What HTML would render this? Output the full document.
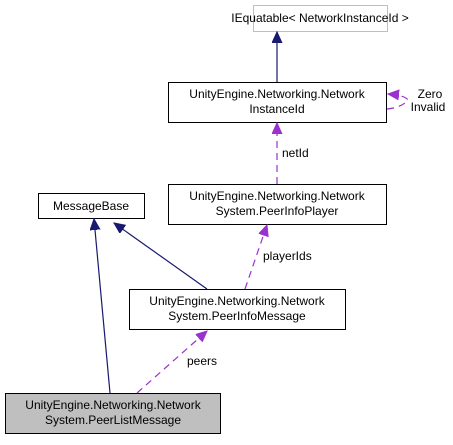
<!DOCTYPE html>
<html><head><style>
body{margin:0;background:#fff;width:453px;height:440px;overflow:hidden}
svg text{font-family:"Liberation Sans",sans-serif;font-size:12px;fill:#000}
</style></head><body>
<svg width="453" height="440" viewBox="0 0 453 440">
<defs>
<marker id="nb" markerWidth="12" markerHeight="12" refX="11" refY="5" orient="auto" markerUnits="userSpaceOnUse"><path d="M0,0 L11,5 L0,10 z" fill="#191970" stroke="#191970"/></marker>
<marker id="pa" markerWidth="12" markerHeight="12" refX="11" refY="5" orient="auto" markerUnits="userSpaceOnUse"><path d="M0,0 L11,5 L0,10 z" fill="#9a32cd" stroke="#9a32cd"/></marker>
</defs>
<rect x="253.5" y="5.5" width="134" height="26" fill="#fff" stroke="#bfbfbf"/>
<text x="320" y="22" text-anchor="middle">IEquatable&lt; NetworkInstanceId &gt;</text>
<rect x="168.5" y="82.5" width="218" height="40" fill="#fff" stroke="#000"/>
<text x="277" y="98" text-anchor="middle">UnityEngine.Networking.Network</text>
<text x="277" y="113" text-anchor="middle">InstanceId</text>
<rect x="168.5" y="184.5" width="218" height="40" fill="#fff" stroke="#000"/>
<text x="277" y="200" text-anchor="middle">UnityEngine.Networking.Network</text>
<text x="277" y="215" text-anchor="middle">System.PeerInfoPlayer</text>
<rect x="38.5" y="193.5" width="106" height="25" fill="#fff" stroke="#000"/>
<text x="91" y="210" text-anchor="middle">MessageBase</text>
<rect x="129.5" y="289.5" width="216" height="40" fill="#fff" stroke="#000"/>
<text x="237" y="305" text-anchor="middle">UnityEngine.Networking.Network</text>
<text x="237" y="320" text-anchor="middle">System.PeerInfoMessage</text>
<rect x="5.5" y="393.5" width="215" height="40" fill="#bfbfbf" stroke="#000"/>
<text x="113" y="409" text-anchor="middle">UnityEngine.Networking.Network</text>
<text x="113" y="424" text-anchor="middle">System.PeerListMessage</text>
<line x1="277" y1="82" x2="277" y2="32" stroke="#191970" stroke-width="1.2" marker-end="url(#nb)"/>
<line x1="110" y1="393" x2="94" y2="219" stroke="#191970" stroke-width="1.2" marker-end="url(#nb)"/>
<line x1="207" y1="289" x2="114" y2="223" stroke="#191970" stroke-width="1.2" marker-end="url(#nb)"/>
<line x1="277" y1="184" x2="277" y2="123" stroke="#9a32cd" stroke-dasharray="7,5" stroke-width="1.2" marker-end="url(#pa)"/>
<text x="282" y="157">netId</text>
<line x1="245" y1="289" x2="267" y2="225" stroke="#9a32cd" stroke-dasharray="7,5" stroke-width="1.2" marker-end="url(#pa)"/>
<text x="263" y="260">playerIds</text>
<line x1="137" y1="393" x2="207" y2="331" stroke="#9a32cd" stroke-dasharray="7,5" stroke-width="1.2" marker-end="url(#pa)"/>
<text x="187" y="365">peers</text>
<path d="M387,109 C398,108 405,104 408,100 C406,97 400,95 388,94" fill="none" stroke="#9a32cd" stroke-dasharray="7,5" stroke-width="1.2" marker-end="url(#pa)"/>
<text x="430" y="98" text-anchor="middle">Zero</text>
<text x="428" y="111" text-anchor="middle">Invalid</text>
</svg>
</body></html>
